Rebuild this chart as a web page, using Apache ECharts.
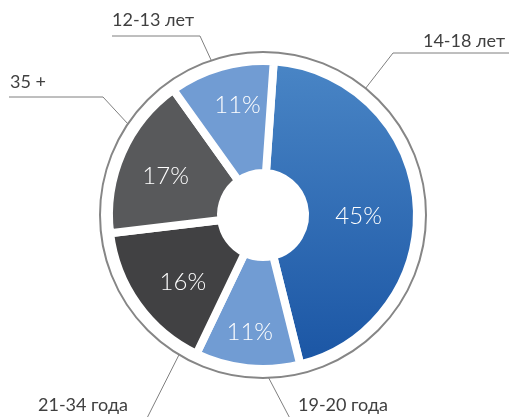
<!DOCTYPE html>
<html><head><meta charset="utf-8">
<script src="https://cdn.jsdelivr.net/npm/echarts@6/dist/echarts.min.js"></script>
<style>html,body{margin:0;padding:0;background:#fff}#c{width:509px;height:417px}</style>
</head><body><div id="c"></div>
<script>
// ---- data ----
const categories = ['14-18 лет', '19-20 года', '21-34 года', '35 +', '12-13 лет'];
const values = [45, 11, 16, 17, 11];

// ---- styling ----
const CX = 263, CY = 215, RING = 163;
const FONT = 'Lato, "Noto Sans", sans-serif';
const sliceColors = [
  {type: 'linear', x: 0, y: 0, x2: 0, y2: 1, colorStops: [{offset: 0, color: '#4a86c6'}, {offset: 1, color: '#1a55a4'}]},
  '#719cd3',
  '#414143',
  '#58595b',
  '#719cd3'
];
// small nudges of the percentage labels
const pctShift = [[-5, 10], [-3, 17], [2, 8], [-5, 2], [2, -13]];
// leader-line anchor angle on ring (deg clockwise from top), elbow and label placement
const labelPlace = [
  {ang: 39,  elbow: [393, 53],  end: [509, 53],  x: 505, y: 41,  align: 'right'},
  {ang: 178, elbow: [295, 428], end: [420, 428], x: 298, y: 405, align: 'left'},
  {ang: 211, elbow: [142, 428], end: [30, 428],  x: 38,  y: 405, align: 'left'},
  {ang: 304, elbow: [103, 97],  end: [9, 97],    x: 10,  y: 82,  align: 'left'},
  {ang: 341.5, elbow: [200, 36], end: [112, 36], x: 112, y: 20,  align: 'left'}
];

const seriesData = categories.map((name, i) => ({name, value: values[i], itemStyle: {color: sliceColors[i]}}));
const labelData = categories.map((name, i) => ({name, value: values[i]}));

const chart = echarts.init(document.getElementById('c'), null, {renderer: 'canvas'});
chart.setOption({
  animation: false,
  graphic: [{
    type: 'circle', z: -10,
    shape: {cx: CX, cy: CY, r: RING},
    style: {fill: 'none', stroke: '#868686', lineWidth: 2}
  }],
  series: [
    {
      type: 'pie',
      center: [CX, CY],
      radius: [42, 154],
      startAngle: 86,
      clockwise: true,
      silent: true,
      data: seriesData,
      itemStyle: {borderColor: '#ffffff', borderWidth: 8},
      label: {
        show: true, position: 'inside',
        formatter: '{d}%',
        color: '#ffffff', fontSize: 24, fontWeight: 300, fontFamily: FONT
      },
      labelLine: {show: false},
      labelLayout: function (p) {
        const s = pctShift[p.dataIndex];
        return {dx: s[0], dy: s[1]};
      },
      emphasis: {disabled: true}
    },
    {
      type: 'pie',
      center: [CX, CY],
      radius: [0, RING],
      startAngle: 86,
      clockwise: true,
      silent: true,
      z: 5,
      data: labelData,
      itemStyle: {color: 'rgba(0,0,0,0)'},
      label: {
        show: true, position: 'outside',
        formatter: '{b}', overflow: 'none',
        color: '#404040', fontSize: 18, fontFamily: FONT
      },
      labelLine: {show: true, lineStyle: {color: '#7f7f7f', width: 1}},
      labelLayout: function (p) {
        const L = labelPlace[p.dataIndex];
        const a = L.ang * Math.PI / 180;
        const ax = CX + RING * Math.sin(a), ay = CY - RING * Math.cos(a);
        return {
          x: L.x, y: L.y, align: L.align, verticalAlign: 'middle',
          labelLinePoints: [[ax, ay], L.elbow, L.end]
        };
      },
      emphasis: {disabled: true}
    }
  ]
});
</script>
</body></html>
